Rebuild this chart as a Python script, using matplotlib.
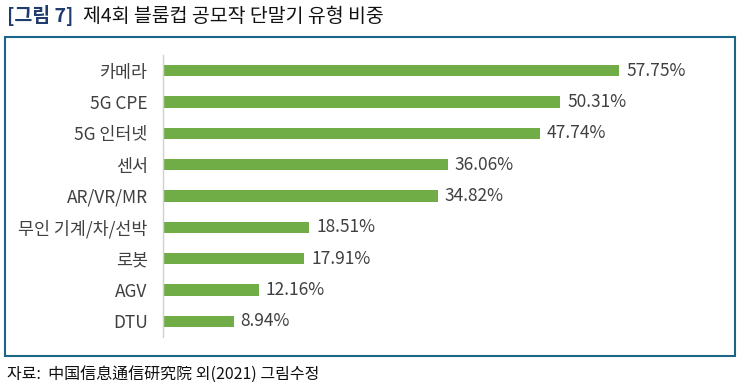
import matplotlib.pyplot as plt
from matplotlib.patches import Rectangle
from matplotlib.text import Annotation

plt.rcParams['font.family'] = ['Noto Sans CJK KR', 'DejaVu Sans']

# data (top to bottom in the chart)
categories = ["카메라", "5G CPE", "5G 인터넷", "센서", "AR/VR/MR",
              "무인 기계/차/선박", "로봇", "AGV", "DTU"]
shares = [57.75, 50.31, 47.74, 36.06, 34.82, 18.51, 17.91, 12.16, 8.94]

title_tag = "[그림 7]"
title_text = "제4회 블룸컵 공모작 단말기 유형 비중"
source_text = "자료:  中国信息通信研究院 외(2021) 그림수정"

green = "#70AD47"
txt_col = "#404040"

fig = plt.figure(figsize=(7.39, 3.86), dpi=100)
ax = fig.add_axes([163 / 739, 1 - 337 / 386, (700 - 163) / 739, (337 - 55) / 386])

ypos = list(range(len(categories)))[::-1]
ax.barh(ypos, shares, height=0.36, color=green)
for y, v in zip(ypos, shares):
    ax.annotate(f"{v:.2f}%", xy=(v, y), xytext=(5, 0), textcoords="offset points",
                va="center", ha="left", fontsize=12.5, color=txt_col)

ax.set_xlim(0, 68)
ax.set_ylim(-0.5, len(categories) - 0.5)
ax.set_yticks(ypos)
ax.set_yticklabels(categories, fontsize=12.5, color=txt_col)
ax.tick_params(axis="y", length=0, pad=11)
ax.set_xticks([])
for s in ["top", "right", "bottom"]:
    ax.spines[s].set_visible(False)
ax.spines["left"].set_color("#d0d0d0")
ax.spines["left"].set_linewidth(1)

# frame around the chart
fig.patches.append(Rectangle((5 / 739, 1 - 356 / 386), 730 / 739, 319 / 386,
                             transform=fig.transFigure, fill=False,
                             edgecolor="#1B6587", linewidth=1.5))

# title: blue tag followed by black text
t1 = fig.text(7 / 739, 1 - 16 / 386, title_tag, fontsize=14, fontweight="bold",
              color="#1F3C6E", va="center", ha="left")
t2 = Annotation(title_text, xy=(1, 0.5), xycoords=t1, xytext=(7, 0),
                textcoords="offset points", va="center", ha="left",
                fontsize=14, color="#111111")
t2.set_figure(fig)
fig.texts.append(t2)

fig.text(7 / 739, 1 - 374 / 386, source_text, fontsize=11.5, color="#111111",
         va="center", ha="left")

fig.savefig("out.png", dpi=100)
